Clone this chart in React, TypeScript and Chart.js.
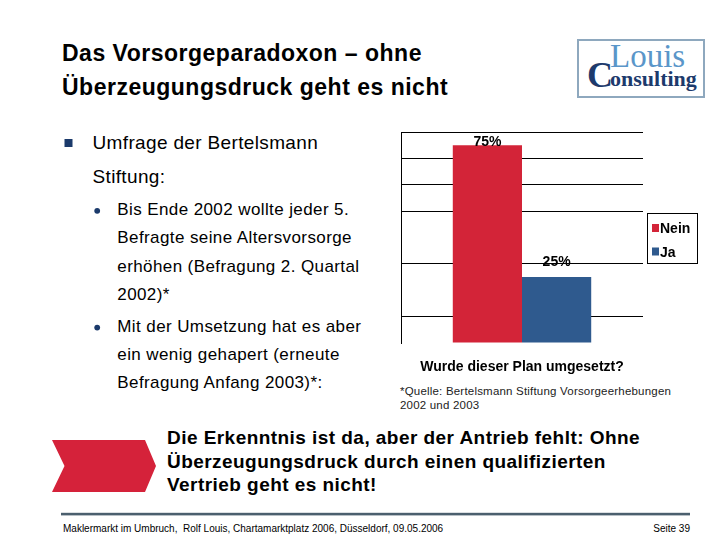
import React, { useEffect, useRef } from 'react';
import { Chart, registerables } from 'chart.js';

Chart.register(...registerables);

// ---- data ----
const categories = [''];
const seriesNames = ['Nein', 'Ja'];
const seriesValues = [[75], [25]];
const seriesColors = ['#D32438', '#2F5A8E'];
const yMin = 0;
const yMax = 80;
const yStep = 10;
const hiddenGridValues = [0, 20, 40];
const xAxisTitle = 'Wurde dieser Plan umgesetzt?';

// ---- slide text ----
const titleLines = ['Das Vorsorgeparadoxon – ohne', 'Überzeugungsdruck geht es nicht'];
const mainBulletLines = ['Umfrage der Bertelsmann', 'Stiftung:'];
const subBullet1Lines = [
  'Bis Ende 2002 wollte jeder 5.',
  'Befragte seine Altersvorsorge',
  'erhöhen (Befragung 2. Quartal',
  '2002)*',
];
const subBullet2Lines = [
  'Mit der Umsetzung hat es aber',
  'ein wenig gehapert (erneute',
  'Befragung Anfang 2003)*:',
];
const sourceLines = ['*Quelle: Bertelsmann Stiftung Vorsorgeerhebungen', '2002 und 2003'];
const conclusionLines = [
  'Die Erkenntnis ist da, aber der Antrieb fehlt: Ohne',
  'Überzeugungsdruck durch einen qualifizierten',
  'Vertrieb geht es nicht!',
];
const footerLeft = 'Maklermarkt im Umbruch,  Rolf Louis, Chartamarktplatz 2006, Düsseldorf, 09.05.2006';
const footerRight = 'Seite 39';

const FONT = "'Liberation Sans', Arial, sans-serif";
const SERIF = "'Liberation Serif', 'Times New Roman', serif";

const valueLabelPlugin = {
  id: 'valueLabels',
  afterDatasetsDraw(chart: any) {
    const { ctx, chartArea } = chart;
    ctx.save();
    ctx.font = `bold 14px ${FONT}`;
    ctx.fillStyle = '#000';
    ctx.textAlign = 'center';
    ctx.textBaseline = 'alphabetic';
    chart.data.datasets.forEach((ds: any, i: number) => {
      const meta = chart.getDatasetMeta(i);
      meta.data.forEach((bar: any, j: number) => {
        const v = ds.data[j];
        const y = Math.max(bar.y - 11, chartArea.top + 14);
        ctx.fillText(`${v}%`, bar.x, y);
      });
    });
    ctx.restore();
  },
};

const boxLegendPlugin = {
  id: 'boxLegend',
  afterDraw(chart: any) {
    const { ctx, chartArea } = chart;
    const cy = (chartArea.top + chartArea.bottom) / 2;
    const left = Math.round(chartArea.right + 4);
    const top = Math.round(cy - 25);
    ctx.save();
    ctx.fillStyle = '#fff';
    ctx.fillRect(left, top, 50, 50);
    ctx.strokeStyle = '#000';
    ctx.lineWidth = 1;
    ctx.strokeRect(left + 0.5, top + 0.5, 50, 50);
    ctx.font = `bold 14px ${FONT}`;
    ctx.textAlign = 'left';
    ctx.textBaseline = 'alphabetic';
    chart.data.datasets.forEach((ds: any, i: number) => {
      const baseline = top + 20 + i * 23.5;
      ctx.fillStyle = ds.backgroundColor;
      ctx.fillRect(left + 5, baseline - 9, 7, 8);
      ctx.fillStyle = '#000';
      ctx.fillText(ds.label, left + 13, baseline);
    });
    ctx.restore();
  },
};

export default function App() {
  const canvasRef = useRef<HTMLCanvasElement | null>(null);

  useEffect(() => {
    if (!canvasRef.current) return;
    const chart = new Chart(canvasRef.current, {
      type: 'bar',
      data: {
        labels: categories,
        datasets: seriesNames.map((name, i) => ({
          label: name,
          data: seriesValues[i],
          backgroundColor: seriesColors[i],
          borderWidth: 0,
          categoryPercentage: 0.572,
          barPercentage: 1,
        })),
      },
      options: {
        animation: false,
        responsive: false,
        devicePixelRatio: 1,
        layout: { padding: { top: 14, left: 11, right: 67, bottom: 0.2 } },
        plugins: {
          legend: { display: false },
          tooltip: { enabled: false },
        },
        scales: {
          x: {
            type: 'category',
            grid: { display: false, drawTicks: false },
            border: { display: false },
            ticks: { display: false },
            title: {
              display: true,
              text: xAxisTitle,
              color: '#000',
              font: { family: FONT, size: 14, weight: 'bold' },
              padding: { top: 16, bottom: 4 },
            },
          },
          y: {
            min: yMin,
            max: yMax,
            ticks: { display: false, stepSize: yStep },
            grid: {
              drawTicks: false,
              lineWidth: 1,
              color: (c: any) =>
                hiddenGridValues.includes(c.tick?.value) ? 'rgba(0,0,0,0)' : '#000',
            },
            border: { display: true, color: '#000', width: 1 },
          },
        },
      },
      plugins: [valueLabelPlugin, boxLegendPlugin],
    } as any);
    return () => chart.destroy();
  }, []);

  const subLine = 28.3;

  return (
    <div
      style={{
        position: 'absolute',
        left: 0,
        top: 0,
        width: 720,
        height: 540,
        background: '#fff',
        overflow: 'hidden',
      }}
    >
      <svg
        width={720}
        height={540}
        style={{ position: 'absolute', left: 0, top: 0 }}
        fontFamily={FONT}
      >
        {/* title */}
        {titleLines.map((t, i) => (
          <text
            key={'t' + i}
            x={62}
            y={61 + i * 34}
            fontSize={23}
            fontWeight="bold"
            fill="#000"
            style={{ letterSpacing: '0.5px' }}
          >
            {t}
          </text>
        ))}

        {/* logo */}
        <rect x={578} y={40} width={126} height={57} fill="#fff" stroke="#8EA8BE" strokeWidth={2} />
        <text x={610} y={66.5} fontFamily={SERIF} fontSize={33} fill="#5A96C9">
          Louis
        </text>
        <text x={587} y={86.5} fontFamily={SERIF} fontSize={36} fontWeight="bold" fill="#1D3A6C">
          C
        </text>
        <text x={610} y={85.5} fontFamily={SERIF} fontSize={22} fontWeight="bold" fill="#1D3A6C">
          onsulting
        </text>

        {/* main bullet */}
        <rect x={64.5} y={139} width={8} height={8} fill="#1B3A6B" />
        {mainBulletLines.map((t, i) => (
          <text
            key={'m' + i}
            x={92.5}
            y={149.3 + i * 33.4}
            fontSize={19}
            fill="#000"
            style={{ letterSpacing: '0.35px' }}
          >
            {t}
          </text>
        ))}

        {/* sub bullets */}
        <circle cx={97.2} cy={210.8} r={2.9} fill="#1B3A6B" />
        {subBullet1Lines.map((t, i) => (
          <text
            key={'s1' + i}
            x={117.3}
            y={215 + i * subLine}
            fontSize={17}
            fill="#000"
            style={{ letterSpacing: '0.4px' }}
          >
            {t}
          </text>
        ))}
        <circle cx={97.2} cy={327.6} r={2.9} fill="#1B3A6B" />
        {subBullet2Lines.map((t, i) => (
          <text
            key={'s2' + i}
            x={117.3}
            y={331.7 + i * 28}
            fontSize={17}
            fill="#000"
            style={{ letterSpacing: '0.4px' }}
          >
            {t}
          </text>
        ))}

        {/* source */}
        {sourceLines.map((t, i) => (
          <text
            key={'q' + i}
            x={400}
            y={395 + i * 14}
            fontSize={11.5}
            fill="#222"
            style={{ letterSpacing: '0.2px' }}
          >
            {t}
          </text>
        ))}

        {/* arrow */}
        <polygon points="52,440 145,440 156,466 145,492 52,492 64.5,466" fill="#D5223A" />

        {/* conclusion */}
        {conclusionLines.map((t, i) => (
          <text
            key={'c' + i}
            x={167}
            y={444.3 + i * 23.4}
            fontSize={19}
            fontWeight="bold"
            fill="#000"
            style={{ letterSpacing: '0.45px' }}
          >
            {t}
          </text>
        ))}

        {/* footer */}
        <rect x={61} y={512.8} width={629} height={2.6} fill="#4B5F6E" />
        <text x={63} y={531.5} fontSize={10} fill="#000" style={{ whiteSpace: 'pre' }}>
          {footerLeft}
        </text>
        <text x={690} y={531.5} fontSize={10} fill="#000" textAnchor="end">
          {footerRight}
        </text>
      </svg>
      <canvas
        ref={canvasRef}
        width={320}
        height={262}
        style={{ position: 'absolute', left: 390, top: 118, width: 320, height: 262 }}
      />
    </div>
  );
}
